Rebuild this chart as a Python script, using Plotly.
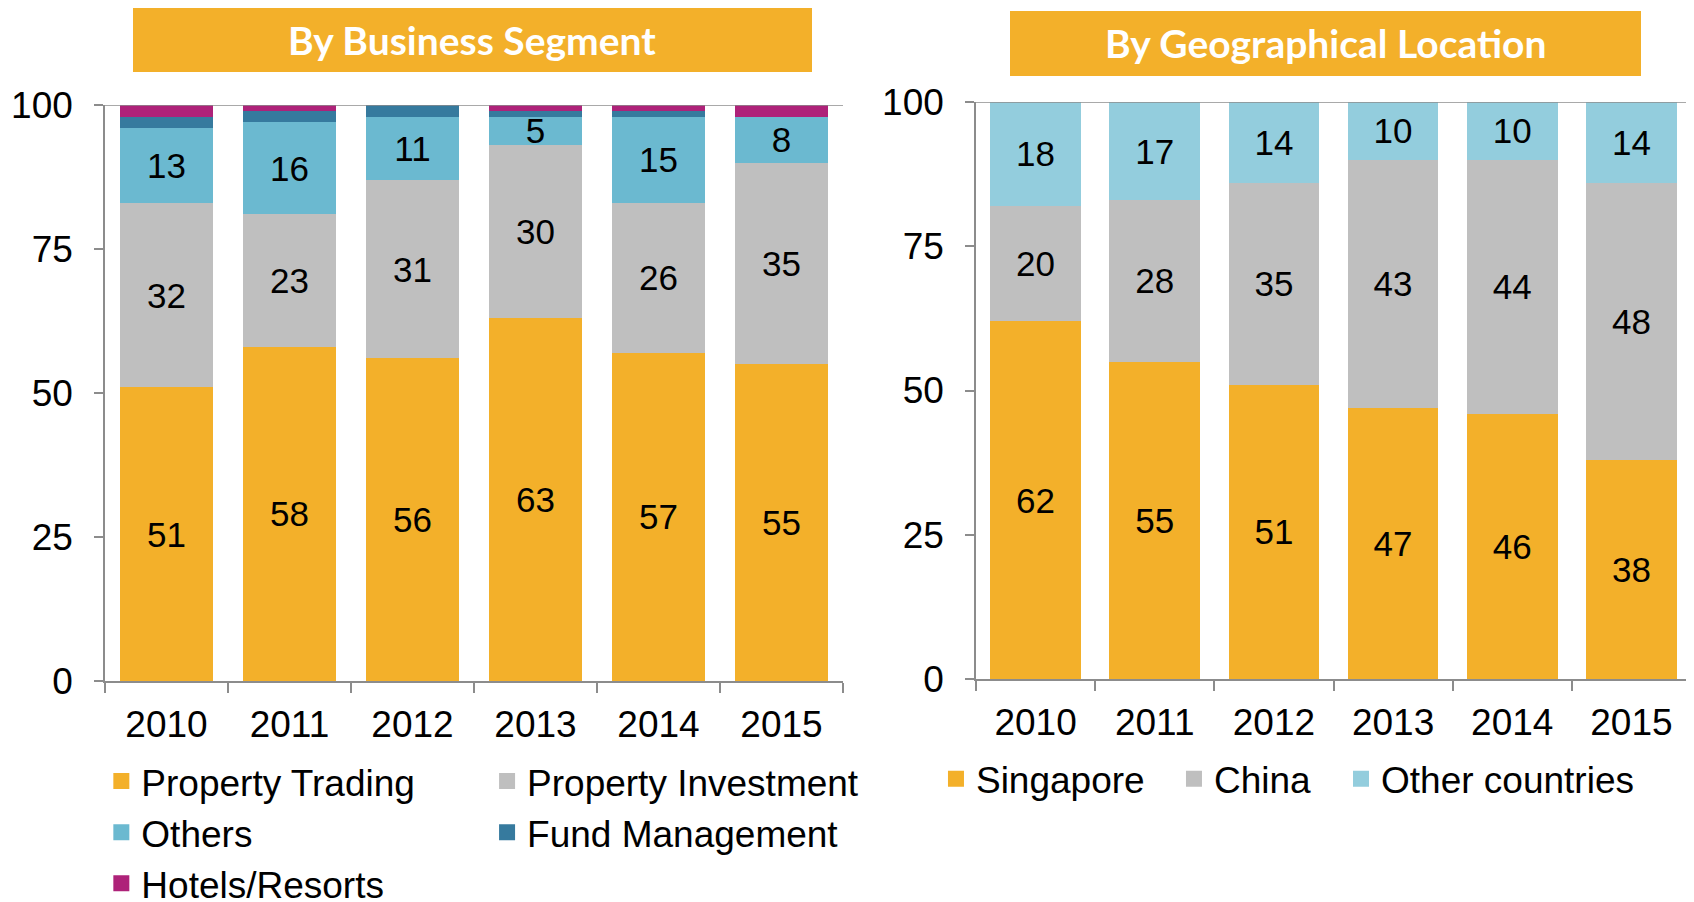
import plotly.graph_objects as go

# Data
years = ["2010", "2011", "2012", "2013", "2014", "2015"]

property_trading = [51, 58, 56, 63, 57, 55]
property_investment = [32, 23, 31, 30, 26, 35]
others = [13, 16, 11, 5, 15, 8]
fund_management = [2, 2, 2, 1, 1, 0]
hotels_resorts = [2, 1, 0, 1, 1, 2]

singapore = [62, 55, 51, 47, 46, 38]
china = [20, 28, 35, 43, 44, 48]
other_countries = [18, 17, 14, 10, 10, 14]

ORANGE = "#F3B02A"
GREY = "#BFBFBF"
TEAL = "#6BB9D0"
BLUE = "#367A9E"
MAGENTA = "#AE2279"
LIGHTBLUE = "#93CDDD"
AXIS = "#8C8C8C"
FONT = "Liberation Sans, Arial, sans-serif"

W, H = 1694, 902
OFF = 8  # page body margin, the figure is drawn 8px in from the corner

def px(x):
    return (x - OFF) / W

def py(y):
    return 1 - (y - OFF) / H

fig = go.Figure()

def add_bar(name, vals, color, xaxis, yaxis, legend, labels=True):
    fig.add_trace(go.Bar(
        x=years, y=vals, name=name,
        marker=dict(color=color, line=dict(width=0)),
        xaxis=xaxis, yaxis=yaxis, showlegend=False,
        texttemplate="%{y}" if labels else None,
        textposition="inside" if labels else "none",
        insidetextanchor="middle",
        textangle=0,
        textfont=dict(family=FONT, size=35, color="black"),
        hoverinfo="x+y+name",
    ))
    # legend-only entry so the swatch can be a bigger square
    fig.add_trace(go.Scatter(
        x=[None], y=[None], name=name, mode="markers",
        marker=dict(symbol="square", size=16, color=color),
        xaxis=xaxis, yaxis=yaxis, legend=legend, hoverinfo="skip",
    ))

# left chart
add_bar("Property Trading", property_trading, ORANGE, "x", "y", "legend")
add_bar("Property Investment", property_investment, GREY, "x", "y", "legend2")
add_bar("Others", others, TEAL, "x", "y", "legend")
add_bar("Fund Management", fund_management, BLUE, "x", "y", "legend2", labels=False)
add_bar("Hotels/Resorts", hotels_resorts, MAGENTA, "x", "y", "legend", labels=False)

# right chart, one legend per item so the spacing can follow the reference
add_bar("Singapore", singapore, ORANGE, "x2", "y2", "legend3")
add_bar("China", china, GREY, "x2", "y2", "legend4")
add_bar("Other countries", other_countries, LIGHTBLUE, "x2", "y2", "legend5")

xax = dict(type="category", showline=True, linecolor=AXIS, linewidth=1.5,
           ticks="outside", tickson="boundaries", ticklen=10, tickcolor=AXIS,
           tickwidth=1.5, showgrid=False, ticklabelstandoff=10, automargin=False,
           tickfont=dict(family=FONT, size=37, color="black"))
yax = dict(range=[0, 100], tickvals=[0, 25, 50, 75, 100], showline=True,
           linecolor=AXIS, linewidth=1.5, ticks="outside", ticklen=9,
           tickcolor=AXIS, tickwidth=1.5, showgrid=False, zeroline=False,
           ticklabelstandoff=14, automargin=False,
           tickfont=dict(family=FONT, size=37, color="black"))

legend_base = dict(orientation="v", traceorder="normal", bgcolor="rgba(0,0,0,0)",
                   font=dict(family=FONT, size=37, color="black"),
                   xanchor="left", yanchor="top", itemclick=False)

fig.update_layout(
    width=W, height=H,
    margin=dict(l=0, r=0, t=0, b=0, autoexpand=False),
    paper_bgcolor="white", plot_bgcolor="white",
    barmode="stack", bargap=0.24,
    uniformtext=dict(minsize=35, mode="show"),
    xaxis=dict(xax, domain=[px(105), px(843)], anchor="y"),
    yaxis=dict(yax, domain=[py(681), py(105)], anchor="x"),
    xaxis2=dict(xax, domain=[px(976), px(1691)], anchor="y2"),
    yaxis2=dict(yax, domain=[py(679), py(102)], anchor="x2"),
    legend=dict(legend_base, x=0.0551, y=0.1768),
    legend2=dict(legend_base, x=0.2828, y=0.1768),
    legend3=dict(legend_base, x=0.5478, y=0.1794),
    legend4=dict(legend_base, x=0.6883, y=0.1794),
    legend5=dict(legend_base, x=0.7869, y=0.1794),
    showlegend=True,
)

# 100 line across the top of each plot
for xr, yr in [("x domain", "y"), ("x2 domain", "y2")]:
    fig.add_shape(type="line", xref=xr, yref=yr, x0=0, x1=1, y0=100, y1=100,
                  line=dict(color=AXIS, width=1.5))

# title boxes (screen pixels)
titles = [("By Business Segment", 133, 812, 8, 72),
          ("By Geographical Location", 1010, 1641, 11, 76)]
for text, x0, x1, y0, y1 in titles:
    fig.add_shape(type="rect", xref="paper", yref="paper",
                  x0=px(x0), x1=px(x1), y0=py(y1), y1=py(y0),
                  fillcolor=ORANGE, line=dict(width=0), layer="below")
    fig.add_annotation(text="<b>" + text + "</b>", xref="paper", yref="paper",
                       x=px((x0 + x1) / 2), y=py((y0 + y1) / 2),
                       xanchor="center", yanchor="middle", showarrow=False,
                       font=dict(family="Lato, Open Sans, sans-serif", size=39, color="white"))

fig.write_html("out.html")
